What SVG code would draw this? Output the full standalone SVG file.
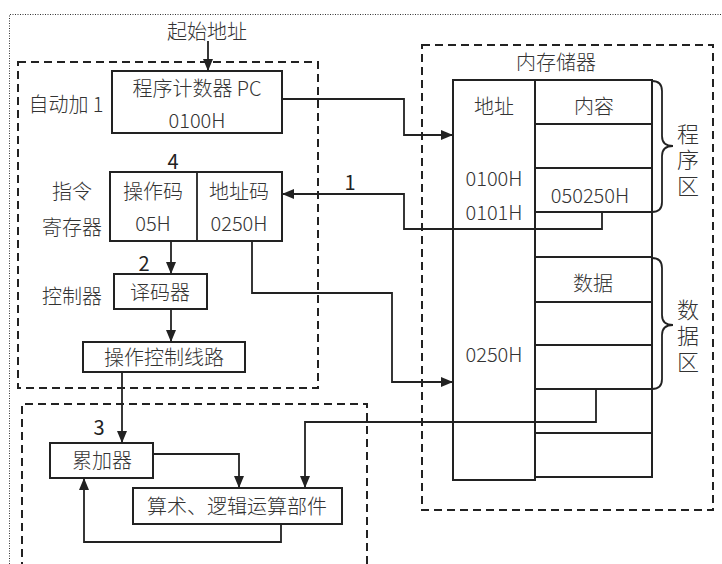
<svg xmlns="http://www.w3.org/2000/svg" width="722" height="564" viewBox="0 0 722 564">
<style>
text{font-family:"Noto Sans CJK SC","Noto Sans",sans-serif;font-size:20px;fill:#333;text-anchor:middle;font-weight:300}
.num{fill:#222;font-weight:400}
.vt{font-size:22px;writing-mode:vertical-rl;letter-spacing:4px}
.box{fill:#fff;stroke:#222;stroke-width:2}
.ln{fill:none;stroke:#222;stroke-width:1.8}
.dash{fill:none;stroke:#222;stroke-width:2;stroke-dasharray:8 5}
.dot{fill:none;stroke:#333;stroke-width:1;stroke-dasharray:1 1.5}
.br{fill:none;stroke:#222;stroke-width:1.8}
</style>
<defs>
<marker id="ah" viewBox="0 0 12 10" refX="12" refY="5" markerWidth="12" markerHeight="10" markerUnits="userSpaceOnUse" orient="auto">
<path d="M0,0 L12,5 L0,10 Z" fill="#222"/>
</marker>
</defs>
<rect width="722" height="564" fill="#fff"/>
<path class="dot" d="M9.5,564 V14.5 H722"/>
<g id="regions">
<rect class="dash" x="18" y="62" width="300" height="326"/>
<rect class="dash" x="422" y="45" width="291" height="465"/>
<path class="dash" d="M22,570 V404 H367 V570"/>
</g>
<g id="start-label"><text x="207" y="39">起始地址</text></g>
<g id="pc">
<rect class="box" x="112" y="71" width="170" height="62"/>
<text x="197" y="96">程序计数器 PC</text>
<text x="197" y="128">0100H</text>
</g>
<g id="auto-inc"><text x="66" y="112">自动加 1</text></g>
<g id="ir">
<rect class="box" x="110" y="172" width="172" height="69"/>
<line class="ln" x1="197" y1="172" x2="197" y2="241"/>
<text x="153" y="199">操作码</text>
<text x="153" y="231">05H</text>
<text x="239" y="199">地址码</text>
<text x="239" y="231">0250H</text>
<text class="num" x="173" y="169">4</text>
<text x="72" y="199">指令</text>
<text x="72" y="235">寄存器</text>
</g>
<g id="decoder">
<rect class="box" x="114" y="274" width="93" height="35"/>
<text x="160" y="300">译码器</text>
<text x="72" y="304">控制器</text>
</g>
<g id="ctrl">
<rect class="box" x="83" y="342" width="162" height="30"/>
<text x="164" y="365">操作控制线路</text>
</g>
<g id="acc">
<rect class="box" x="50" y="443" width="103" height="35"/>
<text x="102" y="468">累加器</text>
</g>
<g id="alu">
<rect class="box" x="133" y="488" width="209" height="36"/>
<text x="237" y="514">算术、逻辑运算部件</text>
</g>
<g id="memory">
<text x="556" y="70">内存储器</text>
<rect class="box" x="453" y="80" width="82" height="400"/>
<rect class="box" x="535" y="80" width="117" height="397"/>
<path class="ln" d="M535,124 H652 M535,168 H652 M535,212 H652 M535,257 H652 M535,302 H652 M535,345 H652 M535,389 H652 M535,433 H652"/>
<text x="494" y="114">地址</text>
<text x="594" y="114">内容</text>
<text x="494" y="186">0100H</text>
<text x="590" y="203">050250H</text>
<text x="494" y="220">0101H</text>
<text x="593" y="291">数据</text>
<text x="494" y="362">0250H</text>
</g>
<g id="program-area">
<path class="br" d="M652,81 Q662,81 662,91 V136 Q662,146 673,146 Q662,146 662,156 V202 Q662,212 652,212"/>
<text class="vt" x="688" y="162">程序区</text>
</g>
<g id="data-area">
<path class="br" d="M652,258 Q662,258 662,268 V315 Q662,325 673,325 Q662,325 662,335 V379 Q662,389 652,389"/>
<text class="vt" x="688" y="338">数据区</text>
</g>
<g id="connectors">
<path class="ln" d="M208,41 V71" marker-end="url(#ah)"/>
<path class="ln" d="M282,99 H404 V135 H453" marker-end="url(#ah)"/>
<path class="ln" d="M602,212 V229 H404 V194 H282" marker-end="url(#ah)"/>
<text class="num" x="350" y="190">1</text>
<path class="ln" d="M171,241 V274" marker-end="url(#ah)"/>
<text class="num" x="144" y="271">2</text>
<path class="ln" d="M171,309 V342" marker-end="url(#ah)"/>
<path class="ln" d="M252,241 V293 H392 V382 H453" marker-end="url(#ah)"/>
<path class="ln" d="M122,372 V443" marker-end="url(#ah)"/>
<text class="num" x="99" y="435">3</text>
<path class="ln" d="M153,454 H239 V488" marker-end="url(#ah)"/>
<path class="ln" d="M596,389 V422 H305 V488" marker-end="url(#ah)"/>
<path class="ln" d="M281,524 V542 H84 V478" marker-end="url(#ah)"/>
</g>
</svg>
